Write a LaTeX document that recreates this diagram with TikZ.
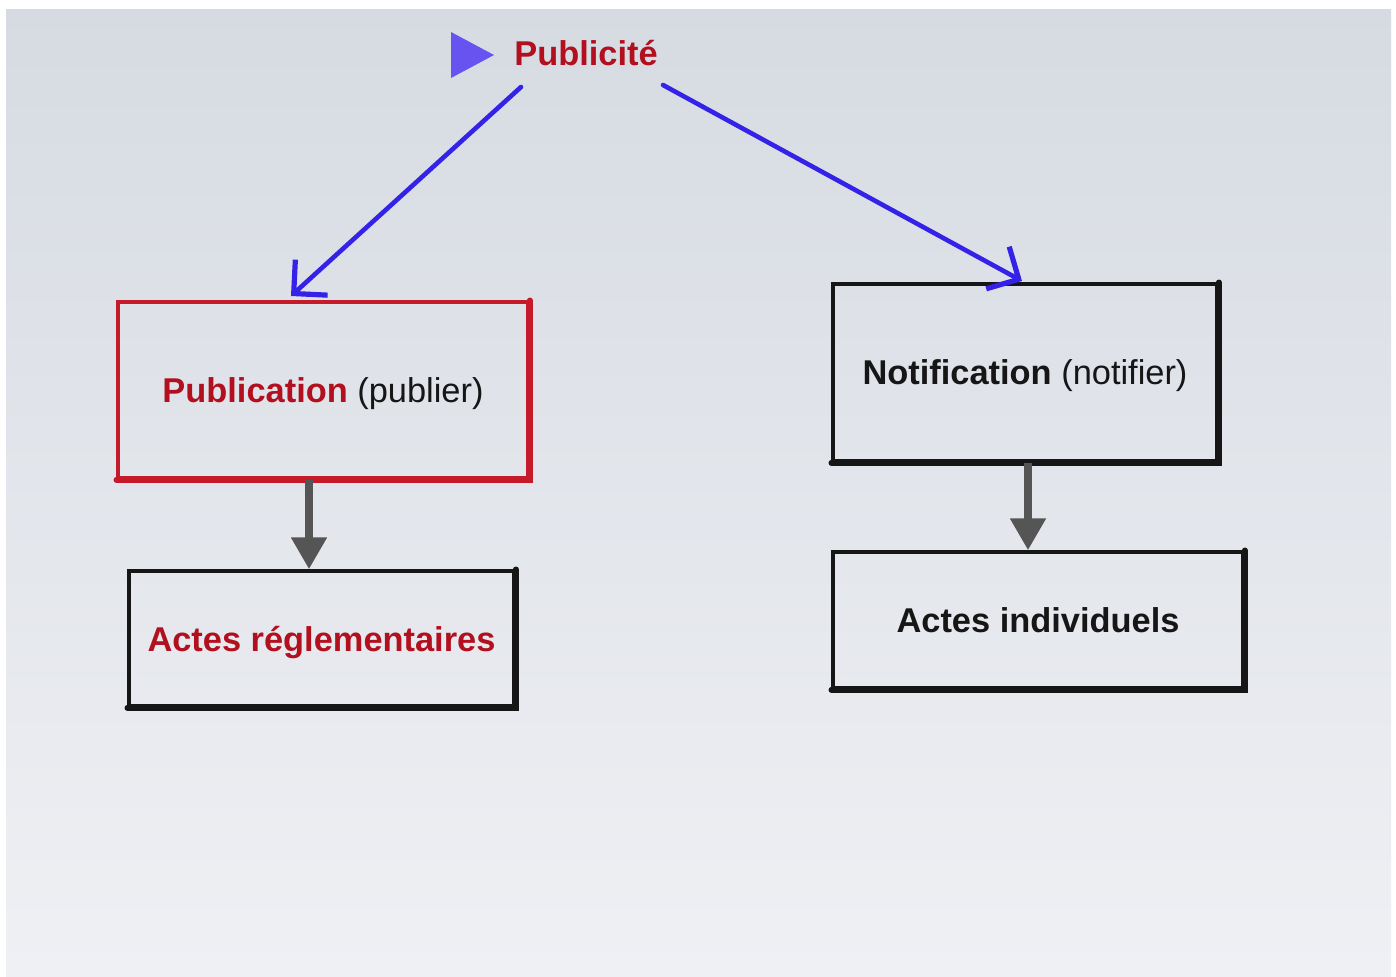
\documentclass[tikz,border=0pt]{standalone}
\usepackage{fontspec}
\setmainfont{Liberation Sans}
\usetikzlibrary{arrows.meta}
\definecolor{slidetop}{RGB}{214,219,226}
\definecolor{slidebot}{RGB}{239,240,244}
\definecolor{darkred}{RGB}{178,16,30}
\definecolor{boxred}{RGB}{196,26,42}
\definecolor{penblue}{RGB}{52,34,232}
\definecolor{tripurple}{RGB}{104,82,240}
\definecolor{arrowgray}{RGB}{85,85,85}
\definecolor{ink}{RGB}{22,22,22}
\begin{document}
\begin{tikzpicture}[x=0.5pt,y=-0.5pt,
  lbl/.style={font=\fontsize{17.2}{20}\selectfont, text=ink, inner sep=0pt, text depth=0pt},
  boxframe/.style={draw=#1, line width=1.7pt, lbl},
  heavyedge/.style={draw=#1, line width=2.8pt, line cap=round},
  penarrow/.style={penblue, line width=2.3pt, line cap=round,
    -{Straight Barb[length=12pt,width=24pt,line width=2.6pt]}},
  grayarrow/.style={arrowgray, line width=4pt,
    -{Triangle[length=16pt,width=17pt]}}
]
\useasboundingbox (0,0) rectangle (1396,976);
\fill[white] (0,0) rectangle (1396,976);
\shade[top color=slidetop, bottom color=slidebot] (6,9) rectangle (1391,976);

% title
\fill[tripurple] (451,32) -- (494,55) -- (451,78) -- cycle;
\node[lbl, text=darkred, font=\fontsize{17.2}{20}\selectfont\bfseries] (pubt) at (586,53) {Publicit\'e};

% boxes
\node[boxframe=boxred, minimum width=205pt, minimum height=88pt] (pub) at (323,390)
  {\textcolor{darkred}{\bfseries Publication} (publier)};
\draw[heavyedge=boxred] (pub.north east) -- (pub.south east) -- (pub.south west);

\node[boxframe=ink, minimum width=192.5pt, minimum height=67.5pt] (reg) at (321.5,638.5)
  {\textcolor{darkred}{\bfseries Actes r\'eglementaires}};
\draw[heavyedge=ink] (reg.north east) -- (reg.south east) -- (reg.south west);

\node[boxframe=ink, minimum width=192pt, minimum height=88.5pt] (notif) at (1025,372.5)
  {{\bfseries Notification} (notifier)};
\draw[heavyedge=ink] (notif.north east) -- (notif.south east) -- (notif.south west);

\node[boxframe=ink, minimum width=205pt, minimum height=68pt] (indiv) at (1038,620)
  {\bfseries Actes individuels};
\draw[heavyedge=ink] (indiv.north east) -- (indiv.south east) -- (indiv.south west);

% blue hand-drawn arrows
\coordinate (s1) at (521,87);
\coordinate (t1) at (291,296);
\coordinate (s2) at (663,85);
\coordinate (t2) at (1022,281);
\draw[penarrow] (s1) -- (t1);
\draw[penarrow] (s2) -- (t2);

% gray arrows
\draw[grayarrow] ([xshift=-7pt]pub.south) -- ([xshift=-6.25pt]reg.north);
\draw[grayarrow] ([xshift=1.5pt]notif.south) -- ([xshift=-5pt]indiv.north);
\end{tikzpicture}
\end{document}
